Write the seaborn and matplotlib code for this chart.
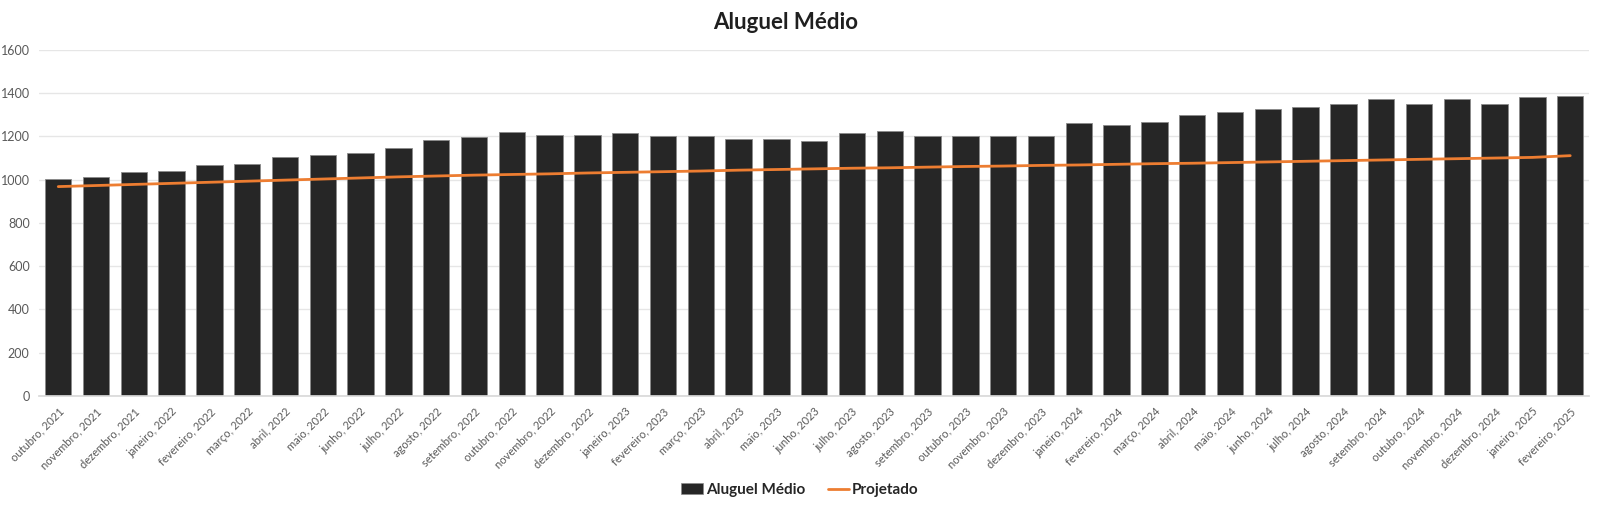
import numpy as np
import pandas as pd
import matplotlib
matplotlib.use("Agg")
import matplotlib.pyplot as plt
from matplotlib.patches import Patch
from matplotlib.lines import Line2D
import seaborn as sns

months = [
    "outubro, 2021", "novembro, 2021", "dezembro, 2021",
    "janeiro, 2022", "fevereiro, 2022", "março, 2022", "abril, 2022", "maio, 2022", "junho, 2022",
    "julho, 2022", "agosto, 2022", "setembro, 2022", "outubro, 2022", "novembro, 2022", "dezembro, 2022",
    "janeiro, 2023", "fevereiro, 2023", "março, 2023", "abril, 2023", "maio, 2023", "junho, 2023",
    "julho, 2023", "agosto, 2023", "setembro, 2023", "outubro, 2023", "novembro, 2023", "dezembro, 2023",
    "janeiro, 2024", "fevereiro, 2024", "março, 2024", "abril, 2024", "maio, 2024", "junho, 2024",
    "julho, 2024", "agosto, 2024", "setembro, 2024", "outubro, 2024", "novembro, 2024", "dezembro, 2024",
    "janeiro, 2025", "fevereiro, 2025",
]

aluguel_medio = [
    1002, 1014, 1037, 1038, 1067, 1073, 1104, 1116, 1125,
    1147, 1182, 1199, 1222, 1207, 1208,
    1215, 1204, 1201, 1187, 1187, 1181,
    1215, 1224, 1202, 1202, 1202, 1202,
    1262, 1255, 1266, 1301, 1315, 1327,
    1338, 1349, 1373, 1352, 1375, 1349,
    1384, 1386,
]

projetado = [
    968, 973, 978, 983, 988, 993, 998, 1003, 1008,
    1013, 1017, 1021, 1024, 1027, 1031,
    1034, 1037, 1040, 1044, 1047, 1050,
    1053, 1055, 1058, 1061, 1063, 1066,
    1068, 1071, 1074, 1076, 1079, 1082,
    1085, 1088, 1091, 1094, 1097, 1100,
    1103, 1111,
]

yticks = [0, 200, 400, 600, 800, 1000, 1200, 1400, 1600]

BAR_COLOR = "#262626"
LINE_COLOR = "#ED7D31"
GRID_COLOR = "#E6E6E6"
TEXT_GRAY = "#595959"

sns.set_theme(style="white")
plt.rcParams["font.family"] = ["Lato", "DejaVu Sans"]

df = pd.DataFrame({"mes": months, "aluguel": aluguel_medio,
                   "pos": np.arange(len(months)), "proj": projetado})

fig = plt.figure(figsize=(16, 5.09), dpi=100)
ax = fig.add_axes([0.0246, 0.222, 0.9686, 0.680])

sns.barplot(data=df, x="pos", y="aluguel", color=BAR_COLOR, width=0.70,
            edgecolor="#8a8a8a", linewidth=0.6, saturation=1, ax=ax, zorder=2)
sns.lineplot(data=df, x="pos", y="proj", color=LINE_COLOR, linewidth=2.0,
             ax=ax, zorder=3, legend=False)

ax.set_xlim(-0.47, len(months) - 0.5)
ax.set_ylim(0, 1600)
ax.set_yticks(yticks)
ax.set_yticklabels([str(v) for v in yticks], color=TEXT_GRAY, fontsize=9)
ax.yaxis.grid(True, color=GRID_COLOR, linewidth=1, zorder=0)
ax.set_axisbelow(True)

ax.set_xticks(np.arange(len(months)))
ax.set_xticklabels(months, rotation=45, ha="right", rotation_mode="anchor",
                   color=TEXT_GRAY, fontsize=8)
ax.tick_params(axis="x", length=0, pad=7)
ax.tick_params(axis="y", length=0, pad=7)
ax.set_xticks(np.arange(len(months) + 1) - 0.5, minor=True)
ax.tick_params(axis="x", which="minor", length=5, color="#D9D9D9", width=1)

for s in ["top", "right", "left"]:
    ax.spines[s].set_visible(False)
ax.spines["bottom"].set_color("#D9D9D9")
ax.set_xlabel("")
ax.set_ylabel("")

fig.text(0.491, 0.955, "Aluguel Médio", ha="center", va="center",
         fontsize=16, fontweight="bold", color="#1f1f1f")

handles = [Patch(facecolor=BAR_COLOR, edgecolor="#8a8a8a", linewidth=0.5),
           Line2D([0], [0], color=LINE_COLOR, linewidth=2)]
fig.legend(handles, ["Aluguel Médio", "Projetado"], loc="center",
           bbox_to_anchor=(0.5, 0.037), ncol=2, frameon=False,
           prop={"weight": "bold", "size": 11}, handlelength=1.4,
           handletextpad=0.2, columnspacing=1.5)

fig.savefig("out.png", dpi=100)
